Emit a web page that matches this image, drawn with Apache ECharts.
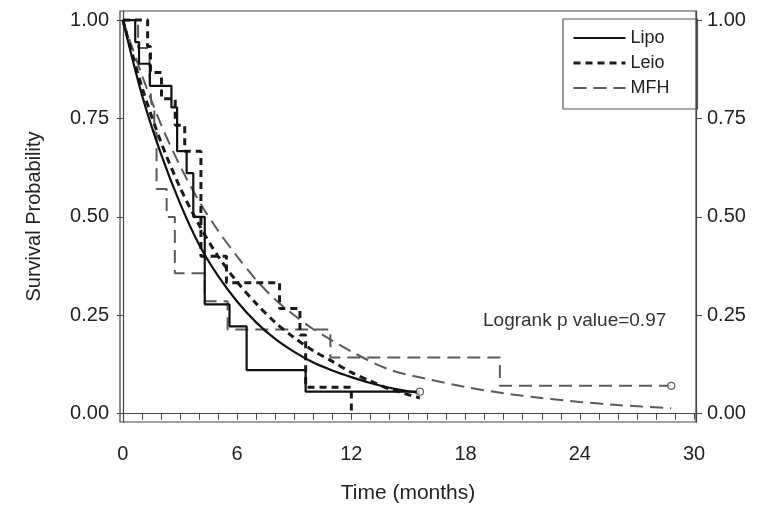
<!DOCTYPE html>
<html>
<head>
<meta charset="utf-8">
<script src="https://cdn.jsdelivr.net/npm/echarts@6/dist/echarts.min.js"></script>
<style>
  html, body { margin: 0; padding: 0; background: #fff; }
  #chart { width: 761px; height: 510px; }
</style>
</head>
<body>
<div id="chart"></div>
<script>
// Kaplan-Meier steps [months, survival]
const lipoKM = [[0, 1], [0.65, 0.944], [0.85, 0.889], [1.42, 0.833], [2.55, 0.778], [2.85, 0.667], [3.35, 0.611], [3.7, 0.5], [4.3, 0.278], [5.6, 0.222], [6.5, 0.111], [9.6, 0.056], [15.6, 0.056]]
const leioKM = [[0, 1], [1.3, 0.933], [1.45, 0.867], [2.03, 0.8], [2.75, 0.733], [3.25, 0.667], [4.1, 0.4], [5.44, 0.333], [8.23, 0.267], [9.3, 0.2], [9.6, 0.067], [12, 0]]
const mfhKM = [[0, 1], [0.8, 0.929], [1.4, 0.857], [1.5, 0.786], [1.65, 0.714], [1.77, 0.571], [2.3, 0.5], [2.73, 0.357], [4.3, 0.286], [5.5, 0.214], [10.9, 0.143], [19.8, 0.071], [28.8, 0.071]]

// fitted curves
const lipoFit = [[0, 1], [1, 0.81], [2, 0.66], [3, 0.535], [4, 0.43], [5, 0.35], [6, 0.285], [7, 0.232], [8, 0.19], [9, 0.157], [10, 0.13], [11, 0.11], [12, 0.093], [13, 0.078], [14, 0.066], [15.6, 0.052]]
const leioFit = [[0, 1], [1, 0.83], [2, 0.69], [3, 0.575], [4, 0.48], [5, 0.4], [6, 0.335], [7, 0.28], [8, 0.232], [9, 0.193], [10, 0.16], [11, 0.133], [12, 0.105], [13, 0.083], [14, 0.063], [15.6, 0.04]]
const mfhFit = [[0, 1], [1, 0.86], [2, 0.735], [3, 0.63], [4, 0.54], [5, 0.465], [6, 0.4], [7, 0.34], [8, 0.29], [9, 0.25], [10, 0.215], [12, 0.158], [14, 0.112], [16, 0.088], [18, 0.068], [20, 0.052], [22, 0.04], [24, 0.03], [26, 0.022], [28.8, 0.014]]

// censored last observations
const censored = [[15.6, 0.056], [28.8, 0.071]]

const xTickLabels = [0, 6, 12, 18, 24, 30]
const xTickMarks = [0, 1, 2, 3, 4, 5, 6, 7, 8, 9, 10, 11, 12, 13, 14, 15, 16, 17, 18, 19, 20, 21, 22, 23, 24, 25, 26, 27, 28, 29, 30]
const yTickLabels = [0, 0.25, 0.5, 0.75, 1]

const font = 'Liberation Sans, Arial, sans-serif'
const lipoStyle = { color: '#111', width: 2.2, type: 'solid' }
const leioStyle = { color: '#1a1a1a', width: 3, type: [7, 5] }
const mfhStyle = { color: '#5a5a5a', width: 2, type: [13, 7] }

const chart = echarts.init(document.getElementById('chart'), null, { renderer: 'canvas' })

function yAxisOpt(pos) {
  return {
    type: 'value',
    position: pos,
    min: -0.021,
    max: 1.023,
    splitLine: { show: false },
    axisLine: { show: true, lineStyle: { color: '#444', width: 1.2 } },
    axisTick: { show: true, length: 6, customValues: yTickLabels, lineStyle: { color: '#444' } },
    axisLabel: {
      customValues: yTickLabels,
      margin: 11,
      fontSize: 20,
      color: '#222',
      fontFamily: font,
      formatter: v => v.toFixed(2)
    }
  }
}

const left = yAxisOpt('left')
left.name = 'Survival Probability'
left.nameLocation = 'middle'
left.nameGap = 76
left.nameTextStyle = { fontSize: 20, color: '#222', fontFamily: font }

chart.setOption({
  animation: false,
  grid: {
    left: 120, right: 65, top: 11, bottom: 88,
    show: true, borderColor: '#444', borderWidth: 1.2
  },
  legend: {
    orient: 'vertical',
    left: 563,
    top: 19,
    itemWidth: 52,
    itemHeight: 14,
    itemGap: 7,
    padding: [10, 28, 12, 9],
    borderColor: '#555',
    borderWidth: 1.2,
    itemStyle: { opacity: 0 },
    textStyle: { fontSize: 18, color: '#222', fontFamily: font },
    data: [
      { name: 'Lipo', lineStyle: lipoStyle },
      { name: 'Leio', lineStyle: leioStyle },
      { name: 'MFH', lineStyle: mfhStyle }
    ]
  },
  xAxis: {
    type: 'value',
    min: -0.15,
    max: 30.1,
    name: 'Time (months)',
    nameLocation: 'middle',
    nameGap: 61,
    nameTextStyle: { fontSize: 21, color: '#222', fontFamily: font },
    splitLine: { show: false },
    axisLine: { show: true, lineStyle: { color: '#444', width: 1.2 } },
    axisTick: { show: true, length: 6, customValues: xTickMarks, lineStyle: { color: '#444' } },
    axisLabel: { customValues: xTickLabels, margin: 22, fontSize: 20, color: '#222', fontFamily: font }
  },
  yAxis: [left, yAxisOpt('right')],
  graphic: [{
    type: 'text',
    left: 483,
    top: 311,
    style: { text: 'Logrank p value=0.97', fontSize: 19, fill: '#333', fontFamily: font }
  }],
  series: [
    { name: 'Lipo', type: 'line', step: 'end', data: lipoKM, symbol: 'none', lineStyle: lipoStyle, z: 5 },
    { name: 'Leio', type: 'line', step: 'end', data: leioKM, symbol: 'none', lineStyle: leioStyle, z: 4 },
    { name: 'MFH', type: 'line', step: 'end', data: mfhKM, symbol: 'none', lineStyle: mfhStyle, z: 3 },
    { name: 'Lipo', type: 'line', smooth: 0.3, data: lipoFit, symbol: 'none', lineStyle: lipoStyle, z: 5 },
    { name: 'Leio', type: 'line', smooth: 0.3, data: leioFit, symbol: 'none', lineStyle: leioStyle, z: 4 },
    { name: 'MFH', type: 'line', smooth: 0.3, data: mfhFit, symbol: 'none', lineStyle: mfhStyle, z: 3 },
    {
      name: 'censored', type: 'scatter', data: censored, symbol: 'circle', symbolSize: 7,
      itemStyle: { color: '#fff', borderColor: '#333', borderWidth: 1.2 }, z: 6
    }
  ]
})
</script>
</body>
</html>
